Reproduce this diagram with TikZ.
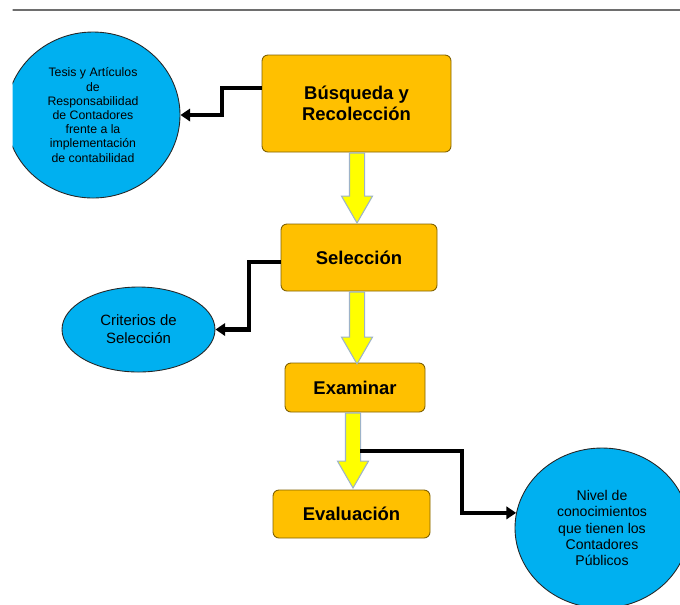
\documentclass[tikz,border=0pt]{standalone}
\usepackage{fontspec}
\setmainfont{Liberation Sans}
\usepackage{tikz}
\usetikzlibrary{arrows.meta, positioning, shapes.geometric, shapes.arrows, calc}

\definecolor{boxfill}{HTML}{FFC000}
\definecolor{boxedge}{HTML}{7F6000}
\definecolor{ovalfill}{HTML}{00B0F0}
\definecolor{arrowfill}{HTML}{FFFF00}
\definecolor{arrowedge}{HTML}{9DB3C8}
\definecolor{rulegray}{HTML}{6E6E6E}

\begin{document}
\begin{tikzpicture}[
    step box/.style={draw=boxedge, fill=boxfill, rounded corners=0.12cm, line width=0.5pt,
        align=center, inner sep=2pt, font=\fontsize{10.5}{12}\selectfont\bfseries},
    oval/.style={ellipse, draw=black!85, fill=ovalfill, line width=0.5pt, align=center, inner sep=1pt},
    down arrow/.style={single arrow, rotate=-90, anchor=tail, draw=arrowedge, fill=arrowfill, line width=0.6pt,
        inner xsep=0pt, inner ysep=0.14cm, single arrow head extend=0.16cm,
        single arrow tip angle=60, single arrow head indent=0pt},
    link/.style={draw=black, line width=2.3pt, -{Triangle[length=5.5pt, width=7pt]}}
]

  \useasboundingbox (0,0) rectangle (13.6,-12.08);
  \clip (0.25,0) rectangle (13.6,-12.08);

  % Rule at the top
  \draw[rulegray, line width=1.1pt] (0.2,-0.2) -- (13.6,-0.2);

  % Steps (orange boxes)
  \node[step box, minimum width=3.78cm, minimum height=1.94cm] (busq) at (7.13,-2.07) {Búsqueda y\\Recolección};
  \node[step box, minimum width=3.12cm, minimum height=1.34cm] (sel) at (7.18,-5.15) {Selección};
  \node[step box, minimum width=2.80cm, minimum height=0.98cm] (exam) at (7.10,-7.75) {Examinar};
  \node[step box, minimum width=3.14cm, minimum height=0.96cm] (eval) at (7.03,-10.28) {Evaluación};

  % Yellow arrows between the steps
  \node[down arrow, minimum height=1.40cm] (a1) at ([xshift=0.01cm]busq.south) {};
  \node[down arrow, minimum height=1.44cm] (a2) at ([xshift=-0.04cm]sel.south) {};
  \node[down arrow, minimum height=1.50cm] (a3) at ([xshift=-0.04cm]exam.south) {};

  % Outputs (blue ellipses)
  \node[oval, minimum width=3.48cm, minimum height=3.32cm, font=\fontsize{7}{8.1}\selectfont] (tesis) at (1.86,-2.30)
    {Tesis y Artículos\\de\\Responsabilidad\\de Contadores\\frente a la\\implementación\\de contabilidad};
  \node[oval, minimum width=3.06cm, minimum height=1.70cm, font=\fontsize{8.5}{10.3}\selectfont] (crit) at (2.77,-6.59)
    {Criterios de\\Selección};
  \node[oval, minimum width=3.48cm, minimum height=3.20cm, font=\fontsize{8}{9.3}\selectfont] (nivel) at (12.04,-10.56)
    {Nivel de\\conocimientos\\que tienen los\\Contadores\\Públicos};

  % Black connectors
  \draw[link] ([yshift=0.31cm]busq.west) -- ++(-0.8,0) |- (tesis.east);
  \draw[link] ([yshift=-0.09cm]sel.west) -- ++(-0.64,0) |- (crit.east);
  \draw[link] ([xshift=0.14cm]$(a3.tail)!0.5!(a3.tip)$) -- ++(2.04,0) |- (nivel.170);

\end{tikzpicture}
\end{document}
